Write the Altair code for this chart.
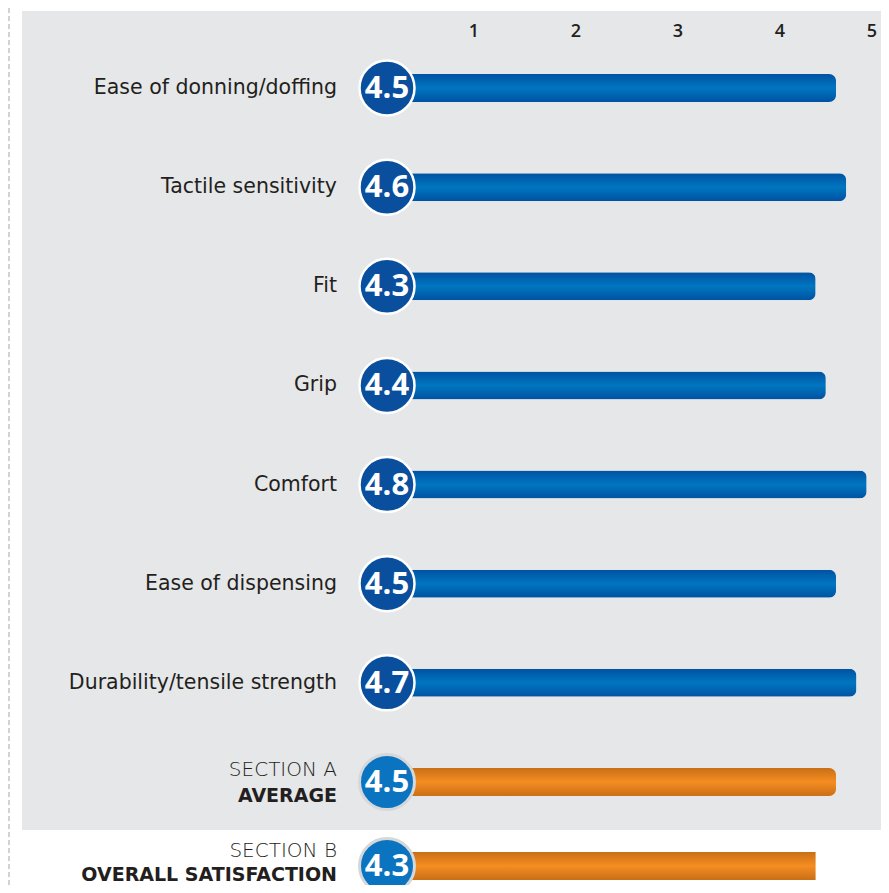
import altair as alt
import pandas as pd

categories = [
    "Ease of donning/doffing",
    "Tactile sensitivity",
    "Fit",
    "Grip",
    "Comfort",
    "Ease of dispensing",
    "Durability/tensile strength",
]
scores = [4.5, 4.6, 4.3, 4.4, 4.8, 4.5, 4.7]
section_a_lines = ["SECTION A", "AVERAGE"]
section_a_score = 4.5
section_b_lines = ["SECTION B", "OVERALL SATISFACTION"]
section_b_score = 4.3
ticks = [1, 2, 3, 4, 5]

FONT = "DejaVu Sans"
NUMFONT = "Open Sans"
TXT = "#231f20"

items = pd.DataFrame({"row": categories, "score": scores})
sec_a = pd.DataFrame({"row": ["SECTION A"], "score": [section_a_score]})
sec_b = pd.DataFrame({"row": ["SECTION B"], "score": [section_b_score]})
tick_df = pd.DataFrame({"t": ticks[:-1]})
last_tick_df = pd.DataFrame({"t": ticks[-1:]})
one = pd.DataFrame({"k": [0]})

row_domain = categories + ["SECTION A"]
xscale = alt.Scale(domain=[0, 5], range=[369, 879], zero=True, nice=False)
yscale = alt.Scale(type="point", domain=row_domain, range=[80, 774], padding=0)

X = alt.X("score:Q", scale=xscale, axis=None)
Y = alt.Y("row:N", scale=yscale, axis=None)

blue_grad = {
    "gradient": "linear", "x1": 0, "y1": 0, "x2": 0, "y2": 1,
    "stops": [
        {"offset": 0, "color": "#0052a2"},
        {"offset": 0.5, "color": "#0076c0"},
        {"offset": 1, "color": "#0052a2"},
    ],
}
orange_grad = {
    "gradient": "linear", "x1": 0, "y1": 0, "x2": 0, "y2": 1,
    "stops": [
        {"offset": 0, "color": "#c96f16"},
        {"offset": 0.5, "color": "#f58d21"},
        {"offset": 1, "color": "#c96f16"},
    ],
}

bg = alt.Chart(one).mark_rect(color="#e6e7e8").encode(
    x=alt.value(14), x2=alt.value(873), y=alt.value(3), y2=alt.value(822)
)
dash = alt.Chart(one).mark_rule(color="#d2d3d5", strokeWidth=2, strokeDash=[5, 3]).encode(
    x=alt.value(1), y=alt.value(0), y2=alt.value(877)
)

tick_text = alt.Chart(tick_df).mark_text(
    font=NUMFONT, fontSize=18, fontWeight=600, color=TXT, baseline="middle", dx=-5
).encode(x=alt.X("t:Q", scale=xscale, axis=None), y=alt.value(24), text="t:Q")
last_tick = alt.Chart(last_tick_df).mark_text(
    font=NUMFONT, fontSize=18, fontWeight=600, color=TXT, baseline="middle",
    align="right", dx=-10
).encode(x=alt.X("t:Q", scale=xscale, axis=None), y=alt.value(24), text="t:Q")

blue_bars = alt.Chart(items).mark_bar(color=blue_grad, size=28, cornerRadiusEnd=7).encode(x=X, y=Y)
a_bar = alt.Chart(sec_a).mark_bar(color=orange_grad, size=28, cornerRadiusEnd=7).encode(x=X, y=Y)
b_bar = alt.Chart(sec_b).mark_bar(color=orange_grad, cornerRadiusEnd=7).encode(
    x=X, x2=alt.datum(0), y=alt.value(844), y2=alt.value(872)
)

circ_items = alt.Chart(items).mark_point(
    shape="circle", filled=True, size=3025, fill="#0a4f9e", stroke="white",
    strokeWidth=2.5, opacity=1
).encode(x=alt.value(379), y=Y)
circ_a = alt.Chart(sec_a).mark_point(
    shape="circle", filled=True, size=3025, fill="#0b74c0", stroke="#d6d7d9",
    strokeWidth=3, opacity=1
).encode(x=alt.value(379), y=Y)
circ_b = alt.Chart(sec_b).mark_point(
    shape="circle", filled=True, size=3025, fill="#0b74c0", stroke="#d6d7d9",
    strokeWidth=3, opacity=1
).encode(x=alt.value(379), y=alt.value(858))

num_style = dict(font=NUMFONT, fontSize=31, fontWeight="bold", color="white",
                 baseline="middle", align="center", dy=1)
num_items = alt.Chart(items).mark_text(**num_style).encode(
    x=alt.value(379), y=Y, text=alt.Text("score:Q", format=".1f"))
num_a = alt.Chart(sec_a).mark_text(**num_style).encode(
    x=alt.value(379), y=Y, text=alt.Text("score:Q", format=".1f"))
num_b = alt.Chart(sec_b).mark_text(**num_style).encode(
    x=alt.value(379), y=alt.value(858), text=alt.Text("score:Q", format=".1f"))

labels = alt.Chart(items).mark_text(
    font=FONT, fontSize=20.5, color=TXT, align="right", baseline="middle"
).encode(x=alt.value(329), y=Y, text="row:N")

def two_line(lines, y1, y2):
    d1 = pd.DataFrame({"s": [lines[0]]})
    d2 = pd.DataFrame({"s": [lines[1]]})
    l1 = alt.Chart(d1).mark_text(
        font=FONT, fontSize=20, fontWeight=200, color=TXT, align="right", baseline="middle"
    ).encode(x=alt.value(329), y=alt.value(y1), text="s:N")
    l2 = alt.Chart(d2).mark_text(
        font=FONT, fontSize=19, fontWeight="bold", color=TXT, align="right", baseline="middle"
    ).encode(x=alt.value(329), y=alt.value(y2), text="s:N")
    return l1 + l2

sa_text = two_line(section_a_lines, 762, 788)
sb_text = two_line(section_b_lines, 843, 867)

chart = alt.layer(
    bg, dash, tick_text, last_tick, blue_bars, a_bar, b_bar,
    circ_items, circ_a, circ_b, num_items, num_a, num_b,
    labels, sa_text, sb_text,
).properties(
    width=873, height=877, padding=0, autosize=alt.AutoSizeParams(type="none"),
    background="white",
).configure_view(stroke=None)

chart.save("out.html", embed_options={"renderer": "svg", "actions": False})
